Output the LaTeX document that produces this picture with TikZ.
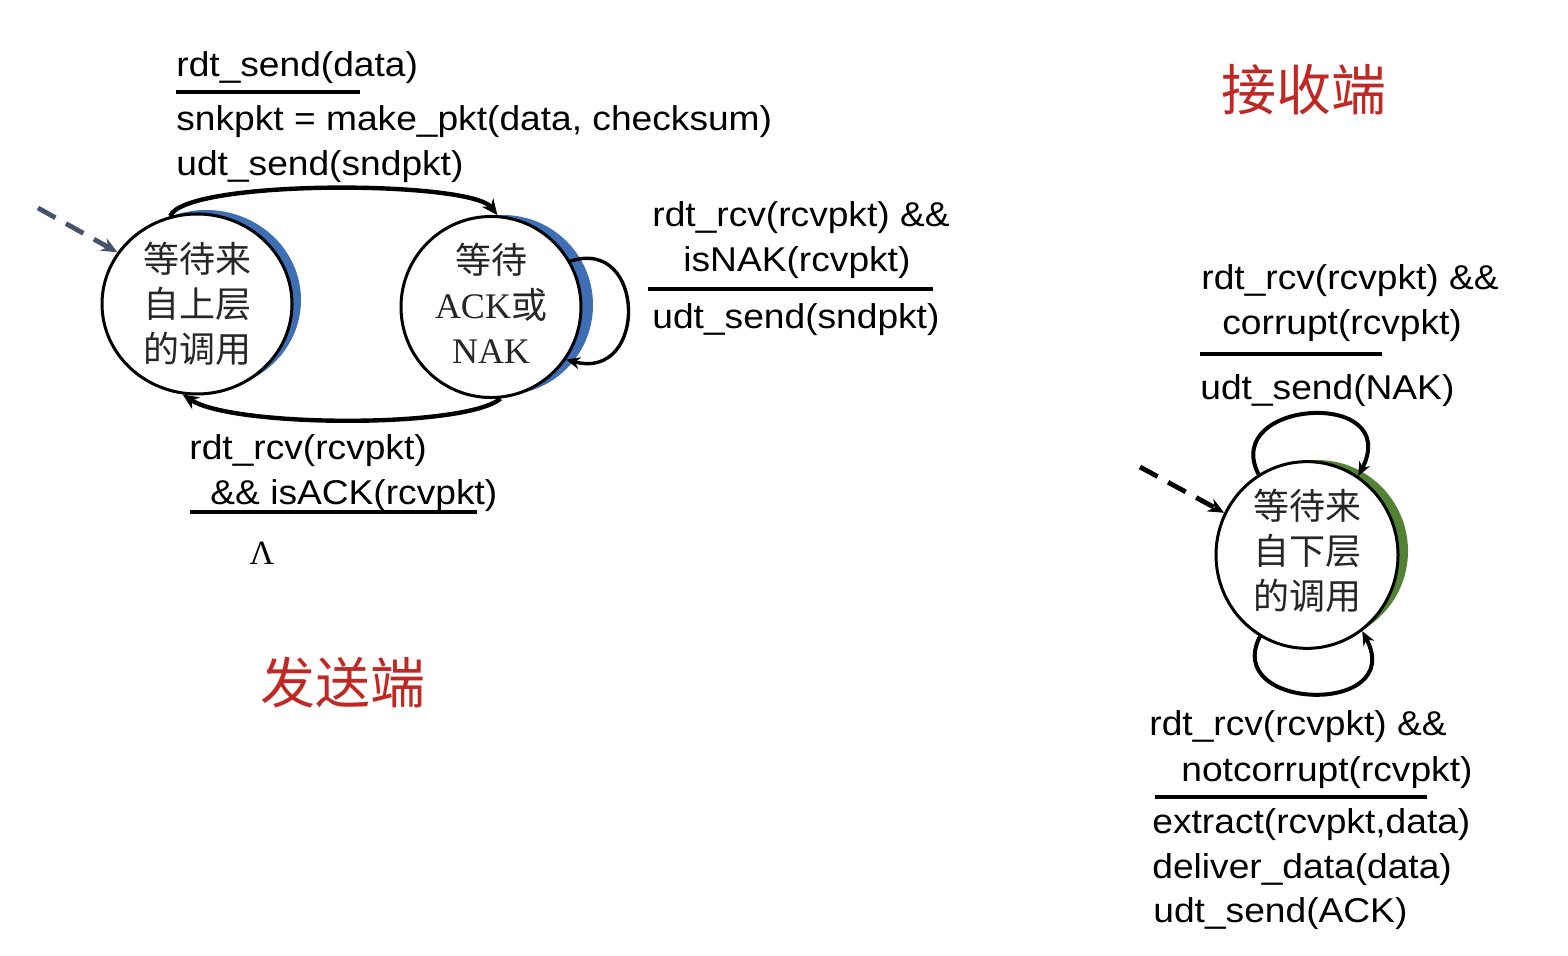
\documentclass[tikz,border=0pt]{standalone}
\usepackage{fontspec}
\setmainfont{Liberation Sans}[FakeStretch=1.08]
\newfontfamily\cjk{Noto Sans CJK SC}
\newfontfamily\serifx{Liberation Serif}
\usetikzlibrary{arrows.meta,shapes.geometric}
\definecolor{shblue}{RGB}{62,110,180}
\definecolor{shgreen}{RGB}{84,130,53}
\definecolor{titlered}{RGB}{192,40,36}
\definecolor{initgray}{RGB}{68,84,106}
\begin{document}
\begin{tikzpicture}[x=0.5pt,y=-0.5pt,
  stateshape/.style={ellipse,draw=black,line width=1.5pt,fill=white,inner sep=0pt,align=center,
    font=\cjk\fontsize{18pt}{22.5pt}\selectfont,text=black!85},
  lbl/.style={anchor=west,inner sep=0pt,yshift=-2pt,font=\fontsize{17.2pt}{22.5pt}\selectfont},
  bar/.style={line width=2pt},
  trans/.style={line width=2.2pt,-{Stealth[length=8pt,width=7pt]}},
  selfloop/.style={line width=1.7pt,-{Stealth[length=7pt,width=6pt]}},
  initarrow/.style={line width=2.4pt,dash pattern=on 10pt off 6pt,-{Stealth[length=8pt,width=7pt]}},
  titletext/.style={font=\cjk\fontsize{27.5pt}{30pt}\selectfont,text=titlered}
]
\useasboundingbox (0,0) rectangle (1568,956);
\fill[white] (0,0) rectangle (1568,956);

% shadows (crescents)
\fill[shblue] (206,300) ellipse[x radius=47.5pt,y radius=45pt];
\fill[shblue] (503,305) ellipse[x radius=45pt,y radius=45pt];
\fill[shgreen] (1317,551) ellipse[x radius=45.5pt,y radius=45.5pt];

% states
\node[stateshape,minimum width=95pt,minimum height=90pt] (s1) at (197,304) {等待来\\自上层\\的调用};
\node[stateshape,minimum width=90pt,minimum height=90pt,text depth=3.8pt] (s2) at (491,307) {等待\\{\serifx ACK}或\\{\serifx NAK}};
\node[stateshape,minimum width=91pt,minimum height=91pt,text depth=5.8pt] (r1) at (1307,555) {等待来\\自下层\\的调用};

% initial arrows
\coordinate (i1) at (38,208);
\coordinate (i2) at (1140,467);
\draw[initarrow,initgray] (i1) -- (s1.147);
\draw[initarrow,black] (i2) -- (r1.153);

% transitions
\draw[trans] (s1.107) .. controls +(15,-37) and +(-27,-35) .. (s2.86);
\draw[trans] (s2.-84) .. controls +(-35,30) and +(50,33) .. (s1.261);
\draw[selfloop] (s2.30) .. controls +(76,-25) and +(82,22) .. (s2.-35);
\draw[selfloop,line width=2pt] (r1.121) .. controls +(-38,-75) and +(45,-88) .. (r1.57);
\draw[selfloop,line width=2pt] (r1.240) .. controls +(-38,75) and +(45,85) .. (r1.306);

% sender labels
\node[lbl] (a1) at (176,64) {rdt\_send(data)};
\draw[bar] (176,92) -- (360,92);
\node[lbl] (a2) at (176,118) {snkpkt = make\_pkt(data, checksum)};
\node[lbl] (a3) at (176,163) {udt\_send(sndpkt)};

\node[lbl] (b1) at (652,214) {rdt\_rcv(rcvpkt) \&\&};
\node[lbl] (b2) at (683,259) {isNAK(rcvpkt)};
\draw[bar] (648,289) -- (933,289);
\node[lbl] (b3) at (652,316) {udt\_send(sndpkt)};

\node[lbl] (c1) at (189,447) {rdt\_rcv(rcvpkt)};
\node[lbl] (c2) at (210,492) {\&\& isACK(rcvpkt)};
\draw[bar] (190,512) -- (477,512);
\node[inner sep=0pt,font=\serifx\fontsize{17pt}{20pt}\selectfont] (c3) at (262,553) {Λ};

% receiver labels
\node[lbl] (d1) at (1201,277) {rdt\_rcv(rcvpkt) \&\&};
\node[lbl] (d2) at (1222,322) {corrupt(rcvpkt)};
\draw[bar] (1200,354) -- (1382,354);
\node[lbl] (d3) at (1200,387) {udt\_send(NAK)};

\node[lbl] (e1) at (1149,723) {rdt\_rcv(rcvpkt) \&\&};
\node[lbl] (e2) at (1181,769) {notcorrupt(rcvpkt)};
\draw[bar] (1155,797) -- (1427,797);
\node[lbl] (e3) at (1152,821) {extract(rcvpkt,data)};
\node[lbl] (e4) at (1152,866) {deliver\_data(data)};
\node[lbl] (e5) at (1153,910) {udt\_send(ACK)};

% titles
\node[titletext] (tr) at (1304,90) {接收端};
\node[titletext] (ts) at (343,683) {发送端};
\end{tikzpicture}
\end{document}
